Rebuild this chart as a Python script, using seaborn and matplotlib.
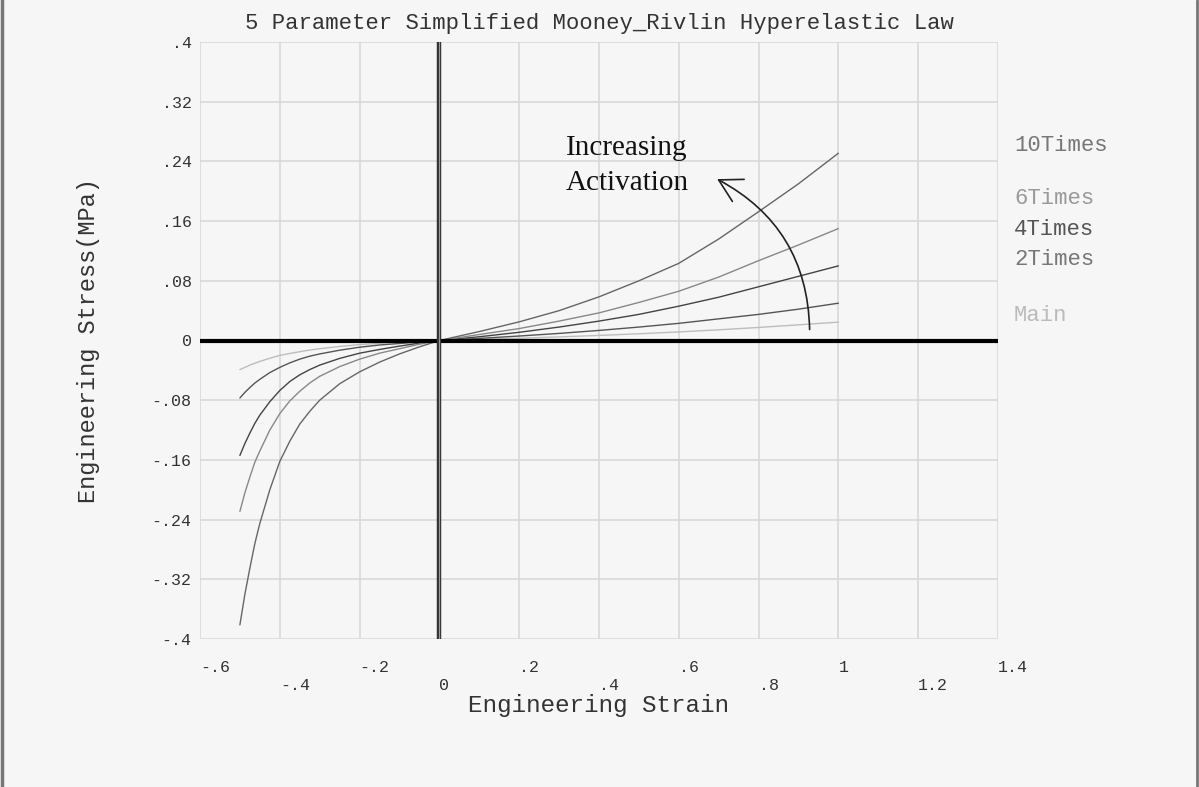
import numpy as np
import pandas as pd
import matplotlib
matplotlib.use("Agg")
import matplotlib.pyplot as plt
import seaborn as sns
from matplotlib.patches import FancyArrowPatch
from matplotlib.lines import Line2D

# ---------------- data ----------------
strain = [-0.5, -0.4875, -0.475, -0.4625, -0.45, -0.425, -0.4, -0.375, -0.35, -0.325, -0.3,
          -0.25, -0.2, -0.15, -0.1, -0.05, 0.0,
          0.1, 0.2, 0.3, 0.4, 0.5, 0.6, 0.7, 0.8, 0.9, 1.0]

stress_main = [-0.039, -0.036, -0.033, -0.0305, -0.028, -0.0238, -0.020, -0.0174, -0.015, -0.0128, -0.011,
               -0.008, -0.0055, -0.0037, -0.0022, -0.001, 0.0,
               0.0014, 0.003, 0.0048, 0.0068, 0.009, 0.0115, 0.0143, 0.0175, 0.021, 0.0246]
stress_2x = [-0.077, -0.0695, -0.063, -0.057, -0.052, -0.043, -0.036, -0.030, -0.025, -0.021, -0.018,
             -0.013, -0.009, -0.006, -0.004, -0.002, 0.0,
             0.0028, 0.006, 0.0095, 0.0135, 0.018, 0.023, 0.029, 0.035, 0.042, 0.050]
stress_4x = [-0.154, -0.138, -0.124, -0.111, -0.100, -0.082, -0.067, -0.055, -0.046, -0.039, -0.033,
             -0.024, -0.017, -0.012, -0.0075, -0.0035, 0.0,
             0.005, 0.011, 0.018, 0.026, 0.035, 0.046, 0.058, 0.072, 0.086, 0.100]
stress_6x = [-0.229, -0.204, -0.183, -0.163, -0.148, -0.120, -0.098, -0.081, -0.068, -0.057, -0.048,
             -0.035, -0.025, -0.017, -0.011, -0.005, 0.0,
             0.008, 0.016, 0.026, 0.037, 0.051, 0.066, 0.085, 0.107, 0.128, 0.150]
stress_10x = [-0.381, -0.340, -0.305, -0.272, -0.245, -0.200, -0.162, -0.135, -0.112, -0.095, -0.080,
              -0.058, -0.042, -0.029, -0.018, -0.0085, 0.0,
              0.012, 0.025, 0.040, 0.0585, 0.080, 0.1034, 0.136, 0.1726, 0.210, 0.251]

series_names = ["Main", "2Times", "4Times", "6Times", "10Times"]
series_values = [stress_main, stress_2x, stress_4x, stress_6x, stress_10x]

x_ticks_upper = [-0.6, -0.2, 0.2, 0.6, 1.0, 1.4]
x_labels_upper = ["-.6", "-.2", ".2", ".6", "1", "1.4"]
x_ticks_lower = [-0.4, 0.0, 0.4, 0.8, 1.2]
x_labels_lower = ["-.4", "0", ".4", ".8", "1.2"]
y_ticks = [-0.4, -0.32, -0.24, -0.16, -0.08, 0.0, 0.08, 0.16, 0.24, 0.32, 0.4]
y_labels = ["-.4", "-.32", "-.24", "-.16", "-.08", "0", ".08", ".16", ".24", ".32", ".4"]

title = "5 Parameter Simplified Mooney_Rivlin Hyperelastic Law"
xlabel = "Engineering Strain"
ylabel = "Engineering Stress(MPa)"
annotation = "Increasing\nActivation"

# ---------------- styling ----------------
line_colors = {"Main": "#bdbdbd", "2Times": "#555555", "4Times": "#444444",
               "6Times": "#888888", "10Times": "#666666"}
label_colors = {"Main": "#bbbbbb", "2Times": "#777777", "4Times": "#555555",
                "6Times": "#999999", "10Times": "#777777"}
label_pos = {"10Times": 0.261, "6Times": 0.190, "4Times": 0.149, "2Times": 0.108, "Main": 0.033}

bg = "#f6f6f6"
sns.set_style("white")
plt.rcParams["font.family"] = ["Liberation Mono", "DejaVu Sans Mono"]

df = pd.DataFrame({
    "strain": np.tile(strain, len(series_names)),
    "stress": np.concatenate(series_values),
    "series": np.repeat(series_names, len(strain)),
})

fig = plt.figure(figsize=(11.99, 7.87), dpi=100, facecolor=bg)
ax = fig.add_axes([200 / 1199, 1 - 639 / 787, 798 / 1199, 597 / 787])
ax.set_facecolor(bg)

sns.lineplot(data=df, x="strain", y="stress", hue="series", palette=line_colors,
             estimator=None, sort=False, legend=False, linewidth=1.0, ax=ax, zorder=2)

ax.set_xlim(-0.6, 1.4)
ax.set_ylim(-0.4, 0.4)

for s in ax.spines.values():
    s.set_visible(False)

grid_c = "#d8d8d8"
ax.set_xticks(x_ticks_upper, labels=x_labels_upper)
ax.set_xticks(x_ticks_lower, labels=x_labels_lower, minor=True)
ax.set_yticks(y_ticks, labels=y_labels)
ax.grid(True, which="both", color=grid_c, linewidth=1.2, zorder=0)
ax.set_axisbelow(True)
ax.tick_params(axis="x", which="both", length=11, width=1.2, color=grid_c,
               labelsize=12, labelcolor="#333333", direction="out")
ax.tick_params(axis="x", which="major", pad=4)
ax.tick_params(axis="x", which="minor", pad=17)
ax.tick_params(axis="y", length=4, width=1.0, color="#999999", labelsize=12,
               labelcolor="#333333", pad=2)
for lab in ax.get_xticklabels(which="both"):
    lab.set_horizontalalignment("left")

ax.set_xlabel(xlabel, fontsize=17.5, color="#333333")
ax.set_ylabel(ylabel, fontsize=17, color="#333333")
ax.xaxis.set_label_coords(0.499, -0.092)
ax.yaxis.set_label_coords(-0.125, 0.5)
ax.set_title(title, fontsize=16, color="#333333", pad=9)

# zero axes
ax.axhline(0, color="black", linewidth=3, zorder=3)
ax.axvline(0, color="#333333", linewidth=3.2, zorder=3)
ax.axvline(0, color="#9a9a9a", linewidth=0.8, zorder=3)

# series labels on the right
for name in series_names:
    ax.text(1.44, label_pos[name], name, color=label_colors[name], fontsize=16,
            va="center", ha="left", clip_on=False)

# annotation
ax.text(0.316, 0.234, annotation, family=["Liberation Serif", "DejaVu Serif"],
        fontsize=21, color="#111111", ha="left", va="center", linespacing=1.45)
arrow = FancyArrowPatch((0.928, 0.011), (0.69, 0.218),
                        connectionstyle="arc3,rad=0.3",
                        arrowstyle="->,head_length=0.8,head_width=0.45",
                        mutation_scale=20, color="#222222", linewidth=1.2, zorder=4)
ax.add_patch(arrow)

# figure side borders
fig.add_artist(Line2D([2 / 1199, 2 / 1199], [0, 1], color="#777777", linewidth=2.5))
fig.add_artist(Line2D([1197 / 1199, 1197 / 1199], [0, 1], color="#777777", linewidth=2))

fig.savefig("out.png", dpi=100, facecolor=bg)
